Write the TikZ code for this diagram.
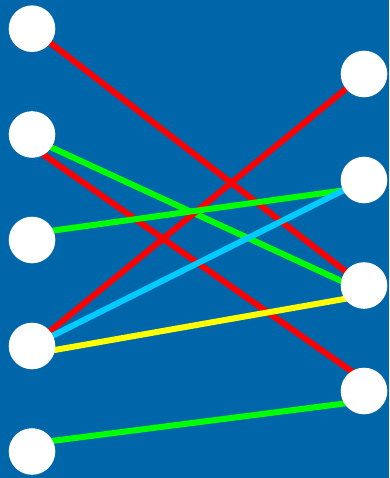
\documentclass[tikz,border=0pt]{standalone}
\usetikzlibrary{backgrounds}
\definecolor{bgblue}{HTML}{0066AA}
\definecolor{egred}{HTML}{FF0000}
\definecolor{eggreen}{HTML}{00FF00}
\definecolor{egcyan}{HTML}{00CCFF}
\definecolor{egyellow}{HTML}{FFFF00}
\tikzset{
  bp vertex/.style={circle, fill=white, draw=none, minimum size=46.6pt, inner sep=0pt},
  bp edge/.style={line width=6pt, line cap=butt},
  bp back/.style={fill=bgblue, draw=none}
}
\begin{document}
\begin{tikzpicture}[x=1pt, y=-1pt]
  % left column
  \node[bp vertex] (l1) at (32,28.7) {};
  \node[bp vertex] (l2) at (32,134.5) {};
  \node[bp vertex] (l3) at (32,240) {};
  \node[bp vertex] (l4) at (32,346) {};
  \node[bp vertex] (l5) at (32,451.5) {};
  % right column
  \node[bp vertex] (r1) at (364,74) {};
  \node[bp vertex] (r2) at (364,180) {};
  \node[bp vertex] (r3) at (364,285.5) {};
  \node[bp vertex] (r4) at (364,391) {};
  \begin{pgfonlayer}{background}
    \fill[bp back] (0,0) rectangle (389,478);
    \useasboundingbox (0,0) rectangle (389,478);
    \draw[bp edge, draw=egred] (l1.center) -- (r3.center);
    \draw[bp edge, draw=egred] ([yshift=-12pt]l2.center) -- ([yshift=11pt]r4.center);
    \draw[bp edge, draw=eggreen] ([yshift=-4pt]l2.center) -- ([yshift=-6pt]r3.center);
    \draw[bp edge, draw=egred] (l4.center) -- (r1.center);
    \draw[bp edge, draw=eggreen] ([yshift=6.5pt]l3.center) -- ([yshift=-7.5pt]r2.center);
    \draw[bp edge, draw=egcyan] (l4.center) -- (r2.center);
    \draw[bp edge, draw=egyellow] ([yshift=-8pt]l4.center) -- ([yshift=-10pt]r3.center);
    \draw[bp edge, draw=eggreen] ([yshift=8pt]l5.center) -- ([yshift=-10pt]r4.center);
  \end{pgfonlayer}
\end{tikzpicture}
\end{document}
